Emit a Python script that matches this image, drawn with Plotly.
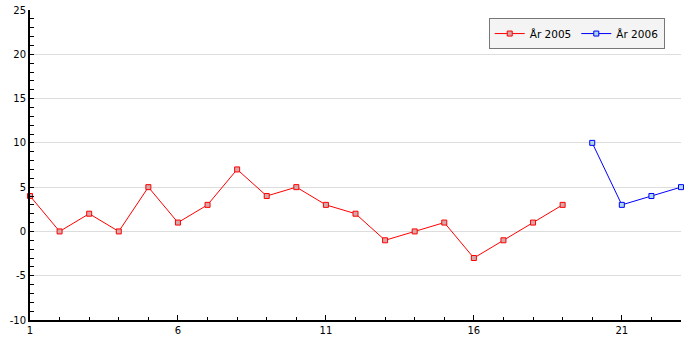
import plotly.graph_objects as go

x2005 = list(range(1, 20))
y2005 = [4, 0, 2, 0, 5, 1, 3, 7, 4, 5, 3, 2, -1, 0, 1, -3, -1, 1, 3]
x2006 = [20, 21, 22, 23]
y2006 = [10, 3, 4, 5]
names = ["År 2005", "År 2006"]
ytickvals = [-10, -5, 0, 5, 10, 15, 20, 25]
yticktext = ["-10", "-5", "0", "5", "10", "15", "20", "25"]
xtickvals = [1, 6, 11, 16, 21]
xticktext = ["1", "6", "11", "16", "21"]

fig = go.Figure()
fig.add_trace(go.Scatter(x=x2005, y=y2005, name=names[0], mode="lines+markers",
                         line=dict(color="red", width=1),
                         marker=dict(symbol="square", size=5, color="rgb(212,168,168)",
                                     line=dict(color="red", width=1)),
                         cliponaxis=False))
fig.add_trace(go.Scatter(x=x2006, y=y2006, name=names[1], mode="lines+markers",
                         line=dict(color="blue", width=1),
                         marker=dict(symbol="square", size=5, color="lightblue",
                                     line=dict(color="blue", width=1)),
                         cliponaxis=False))

fig.update_layout(
    width=700, height=350,
    margin=dict(l=30, r=19, t=10, b=30),
    paper_bgcolor="white", plot_bgcolor="white",
    font=dict(family="DejaVu Sans", size=10, color="black"),
    legend=dict(orientation="h", x=0.975, y=0.974, xanchor="right", yanchor="top",
                bgcolor="#f4f4f4", bordercolor="#777777", borderwidth=1,
                font=dict(size=10.5), itemwidth=30),
    showlegend=True,
)
fig.update_xaxes(range=[1, 23], tickmode="array", tickvals=xtickvals, ticktext=xticktext,
                 ticks="inside", ticklen=5,
                 tickcolor="black", showline=True, linecolor="black", linewidth=2,
                 showgrid=False, zeroline=False, automargin=False,
                 minor=dict(dtick=1, tick0=1, ticks="inside", ticklen=3, tickcolor="black"))
fig.update_yaxes(range=[-10, 25], tickmode="array", tickvals=ytickvals, ticktext=yticktext,
                 ticks="inside", ticklen=4,
                 tickcolor="black", showline=True, linecolor="black", linewidth=2,
                 showgrid=True, gridcolor="#dddddd", zeroline=False, automargin=False,
                 minor=dict(dtick=1, tick0=0, ticks="inside", ticklen=4, tickcolor="black"))

fig.write_html("out.html")
